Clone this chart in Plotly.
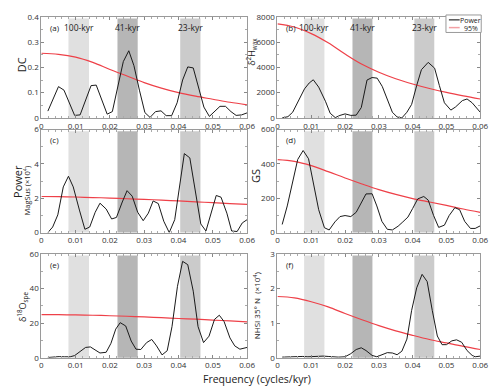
import plotly.graph_objects as go
from plotly.subplots import make_subplots

# orbital bands (cycles/kyr)
band_names = ["100-kyr", "41-kyr", "23-kyr"]
band_lo = [0.0079, 0.0222, 0.0405]
band_hi = [0.0139, 0.0281, 0.0464]
band_colors = ["#e0e0e0", "#b6b6b6", "#cbcbcb"]

# 95% confidence curves, sampled every 0.005
freq_ci = [0, 0.005, 0.01, 0.015, 0.02, 0.025, 0.03, 0.035, 0.04, 0.045, 0.05, 0.055, 0.06]
ci_a = [0.256, 0.252, 0.241, 0.22, 0.192, 0.166, 0.14, 0.118, 0.10, 0.086, 0.074, 0.062, 0.052]
ci_b = [7450, 7200, 6680, 5950, 5060, 4250, 3620, 3100, 2690, 2330, 2020, 1750, 1500]
ci_c = [2.1, 2.09, 2.07, 2.04, 2.01, 1.97, 1.93, 1.89, 1.84, 1.79, 1.74, 1.69, 1.64]
ci_d = [425, 415, 390, 355, 318, 283, 250, 222, 198, 178, 158, 137, 118]
ci_e = [25.0, 24.9, 24.8, 24.6, 24.3, 24.0, 23.6, 23.2, 22.7, 22.3, 21.8, 21.3, 20.8]
ci_f = [1.77, 1.73, 1.62, 1.47, 1.28, 1.1, 0.93, 0.78, 0.65, 0.53, 0.43, 0.33, 0.24]

# power spectra
freq_a = [0.0019, 0.0035, 0.0050, 0.0066, 0.0082, 0.0097, 0.0113, 0.0129, 0.0145, 0.0160,
          0.0176, 0.0192, 0.0207, 0.0223, 0.0239, 0.0255, 0.0270, 0.0286, 0.0302, 0.0317,
          0.0333, 0.0349, 0.0364, 0.0380, 0.0396, 0.0412, 0.0427, 0.0443, 0.0459, 0.0474,
          0.0490, 0.0506, 0.0521, 0.0537, 0.0553, 0.0568, 0.0584, 0.0600]
power_a = [0.027, 0.08, 0.124, 0.11, 0.06, 0.01, 0.012, 0.07, 0.128, 0.13,
           0.07, 0.015, 0.025, 0.13, 0.223, 0.266, 0.207, 0.11, 0.021, 0.002,
           0.025, 0.028, 0.009, 0.009, 0.06, 0.15, 0.202, 0.198, 0.12, 0.043,
           0.006, 0.025, 0.046, 0.046, 0.025, 0.01, 0.012, 0.02]

freq_b = [0.0014, 0.0031, 0.0045, 0.0065, 0.0080, 0.0094, 0.0106, 0.0122, 0.0142, 0.0156,
          0.0171, 0.0185, 0.0200, 0.0217, 0.0233, 0.0248, 0.0265, 0.0280, 0.0295, 0.0310,
          0.0325, 0.0340, 0.0354, 0.0368, 0.0383, 0.0397, 0.0412, 0.0426, 0.0446, 0.0465,
          0.0479, 0.0494, 0.0513, 0.0527, 0.0547, 0.0561, 0.0576, 0.0600]
power_b = [0, 100, 450, 1570, 2300, 2770, 3020, 2440, 1320, 370,
           25, 200, 320, 200, 220, 820, 3000, 3200, 3150, 2500,
           1400, 450, 75, 0, 450, 1070, 2570, 3820, 4400, 3940,
           2570, 1200, 620, 870, 1370, 1500, 1200, 450]

freq_c = [0.0019, 0.0033, 0.0048, 0.0064, 0.0079, 0.0093, 0.0111, 0.0127, 0.0141, 0.0157,
          0.0171, 0.0189, 0.0205, 0.0219, 0.0236, 0.0250, 0.0265, 0.0281, 0.0297, 0.0312,
          0.0326, 0.0341, 0.0357, 0.0373, 0.0389, 0.0405, 0.0417, 0.0433, 0.0450, 0.0465,
          0.0480, 0.0495, 0.0510, 0.0524, 0.0541, 0.0555, 0.0571, 0.0586, 0.0600]
power_c = [0, 0.32, 1.03, 2.66, 3.28, 2.66, 1.31, 0.19, 0.32, 1.18,
           1.71, 1.37, 0.79, 0.88, 1.78, 2.44, 2.12, 1.18, 0.69, 1.13,
           1.84, 1.69, 0.66, 0, 0.75, 2.9, 4.6, 4.35, 2.34, 0.5,
           0.09, 1.18, 2.16, 2.06, 1.13, 0.09, 0.06, 0.56, 0.75]

freq_d = [0.0014, 0.0029, 0.0060, 0.0076, 0.0092, 0.0106, 0.0122, 0.0139, 0.0153, 0.0170,
          0.0185, 0.0200, 0.0217, 0.0233, 0.0248, 0.0262, 0.0280, 0.0294, 0.0309, 0.0325,
          0.0340, 0.0357, 0.0371, 0.0386, 0.0400, 0.0415, 0.0433, 0.0446, 0.0462, 0.0477,
          0.0494, 0.0508, 0.0525, 0.0539, 0.0554, 0.0571, 0.0585, 0.0600]
power_d = [47, 155, 426, 478, 430, 286, 133, 28, 15, 62,
           93, 99, 93, 118, 174, 225, 226, 155, 65, 19,
           15, 37, 62, 90, 140, 196, 210, 189, 99, 30,
           43, 99, 145, 133, 65, 24, 24, 39]

freq_e = [0.0019, 0.0036, 0.0052, 0.0067, 0.0084, 0.0097, 0.0111, 0.0129, 0.0143, 0.0157,
          0.0171, 0.0189, 0.0203, 0.0217, 0.0230, 0.0246, 0.0262, 0.0276, 0.0290, 0.0307,
          0.0322, 0.0336, 0.0352, 0.0367, 0.0381, 0.0397, 0.0412, 0.0427, 0.0443, 0.0457,
          0.0473, 0.0489, 0.0505, 0.0519, 0.0533, 0.0550, 0.0564, 0.0579, 0.0600]
power_e = [0.2, 0.6, 0.7, 0.6, 0.6, 1.3, 3.5, 6.0, 6.3, 4.7,
           2.8, 3.2, 8.4, 16.6, 20.3, 18.4, 9.7, 5.0, 4.8, 8.8,
           10.6, 6.9, 1.7, 4.1, 18, 41.3, 55.7, 53.8, 38.5, 18,
           8.8, 12.5, 22.2, 24.6, 20.9, 11.5, 6.9, 5.0, 6.0]

freq_f = [0.0014, 0.0030, 0.0045, 0.0060, 0.0075, 0.0090, 0.0105, 0.0120, 0.0135, 0.0150,
          0.0165, 0.0180, 0.0200, 0.0217, 0.0233, 0.0248, 0.0262, 0.0280, 0.0294, 0.0309,
          0.0325, 0.0340, 0.0354, 0.0368, 0.0383, 0.0397, 0.0412, 0.0428, 0.0443, 0.0458,
          0.0473, 0.0487, 0.0500, 0.0516, 0.0530, 0.0545, 0.0561, 0.0576, 0.0585, 0.0600]
power_f = [0.02, 0.03, 0.04, 0.05, 0.04, 0.03, 0.04, 0.05, 0.05, 0.04,
           0.03, 0.02, 0.03, 0.12, 0.24, 0.29, 0.21, 0.07, 0.03, 0.09,
           0.15, 0.14, 0.09, 0.19, 0.54, 1.37, 2.02, 2.41, 2.2, 1.37,
           0.63, 0.38, 0.38, 0.49, 0.52, 0.45, 0.21, 0.07, 0.03, 0.05]

panels = [
    ("(a)", freq_a, power_a, ci_a, [0, 0.4], 0.1),
    ("(b)", freq_b, power_b, ci_b, [0, 8000], 2000),
    ("(c)", freq_c, power_c, ci_c, [0, 6], 2),
    ("(d)", freq_d, power_d, ci_d, [0, 600], 200),
    ("(e)", freq_e, power_e, ci_e, [0, 60], 20),
    ("(f)", freq_f, power_f, ci_f, [0, 3], 1),
]

FONT = "Open Sans"
BLACK = "#1a1a1a"
RED = "#ee4048"
# page has an 8px body margin, so the figure is drawn offset by 8px
W, H, OFF = 492, 383, 8


def px_x(px):
    return (px - OFF) / W


def px_y(py):
    return 1 - (py - OFF) / H


fig = make_subplots(rows=3, cols=2)

x_domains = [[px_x(40), px_x(250)], [px_x(281), px_x(488)]]
y_domains = [[px_y(115), px_y(11)], [px_y(233), px_y(127)], [px_y(362), px_y(255)]]

shapes = []
annotations = []
for i, (lab, fx, py, ci, yr, dt) in enumerate(panels):
    row, col = i // 2 + 1, i % 2 + 1
    n = "" if i == 0 else str(i + 1)
    fig.add_trace(go.Scatter(x=freq_ci, y=ci, mode="lines", line=dict(color=RED, width=1.2, shape="spline"),
                             name="95%", showlegend=False), row=row, col=col)
    fig.add_trace(go.Scatter(x=fx, y=py, mode="lines", line=dict(color=BLACK, width=1),
                             name="Power", showlegend=False), row=row, col=col)
    fig.update_xaxes(range=[0, 0.06], dtick=0.01, domain=x_domains[col - 1],
                     showline=True, linecolor="#9a9a9a", mirror="allticks", ticks="inside",
                     ticklen=3, tickcolor="#888", showgrid=False, zeroline=False,
                     minor=dict(dtick=0.002, ticks="inside", ticklen=2, tickcolor="#aaa"),
                     tickfont=dict(size=8, color="#333", family=FONT), row=row, col=col)
    fig.update_yaxes(range=yr, dtick=dt, domain=y_domains[row - 1],
                     showline=True, linecolor="#9a9a9a", mirror="allticks", ticks="inside",
                     ticklen=3, tickcolor="#888", showgrid=False, zeroline=False,
                     minor=dict(dtick=dt / 2, ticks="inside", ticklen=2, tickcolor="#aaa"),
                     tickfont=dict(size=8, color="#333", family=FONT), row=row, col=col)
    for lo, hi, c in zip(band_lo, band_hi, band_colors):
        shapes.append(dict(type="rect", xref="x" + n, yref="y" + n + " domain", x0=lo, x1=hi,
                           y0=0, y1=0.985, fillcolor=c, line_width=0, layer="below"))
    annotations.append(dict(text=lab, xref="x" + n + " domain", yref="y" + n + " domain", x=0.03, y=0.9,
                            showarrow=False, xanchor="left", yanchor="middle",
                            font=dict(size=8, color="#222", family=FONT)))
    if row == 1:
        for lo, hi, name in zip(band_lo, band_hi, band_names):
            annotations.append(dict(text=name, xref="x" + n, yref="y" + n + " domain", x=(lo + hi) / 2,
                                    y=0.9, showarrow=False, xanchor="center", yanchor="middle",
                                    font=dict(size=8.5, color="#222", family=FONT)))

# hand-drawn legend box in panel (b)
shapes.append(dict(type="rect", xref="paper", yref="paper", x0=px_x(453), x1=px_x(489),
                   y0=px_y(27), y1=px_y(9), line=dict(color="#999", width=1), fillcolor="white",
                   layer="above"))
for yy, colr in [(14, "#555"), (22, "#f3a0a4")]:
    shapes.append(dict(type="line", xref="paper", yref="paper", x0=px_x(456), x1=px_x(467),
                       y0=px_y(yy), y1=px_y(yy), line=dict(color=colr, width=1.5)))
for txt, yy, xx in [("Power", 14.5, 478), ("95%", 22.5, 479)]:
    annotations.append(dict(text=txt, xref="paper", yref="paper", x=px_x(xx), y=px_y(yy),
                            xanchor="center", yanchor="middle",
                            showarrow=False, font=dict(size=7, color="#222", family=FONT)))

# y-axis titles
ytitles = [
    ("DC", 20, 60, 11),
    ("δ<sup>2</sup>H<sub>wax</sub>", 255, 47, 9),
    ("Power", 15, 180, 11),
    ("MagSus (×10<sup>4</sup>)", 25, 190, 7.5),
    ("GS", 258, 175, 11),
    ("δ<sup>18</sup>O<sub>spe</sub>", 21, 310, 9),
    ("NHSI 35° N  (×10<sup>4</sup>)", 259, 308, 8),
]
for txt, px, py_, sz in ytitles:
    annotations.append(dict(text=txt, xref="paper", yref="paper", x=px_x(px), y=px_y(py_),
                            xanchor="center", yanchor="middle", textangle=-90, showarrow=False,
                            font=dict(size=sz, color="#222", family=FONT)))
annotations.append(dict(text="Frequency (cycles/kyr)", xref="paper", yref="paper", x=px_x(260), y=px_y(384),
                        xanchor="center", yanchor="middle", showarrow=False,
                        font=dict(size=10.5, color="#222", family=FONT)))

fig.update_layout(
    width=W, height=H,
    margin=dict(l=0, r=0, t=0, b=0),
    plot_bgcolor="white", paper_bgcolor="white",
    shapes=shapes, annotations=annotations,
    showlegend=False,
)

fig.write_html("out.html")
